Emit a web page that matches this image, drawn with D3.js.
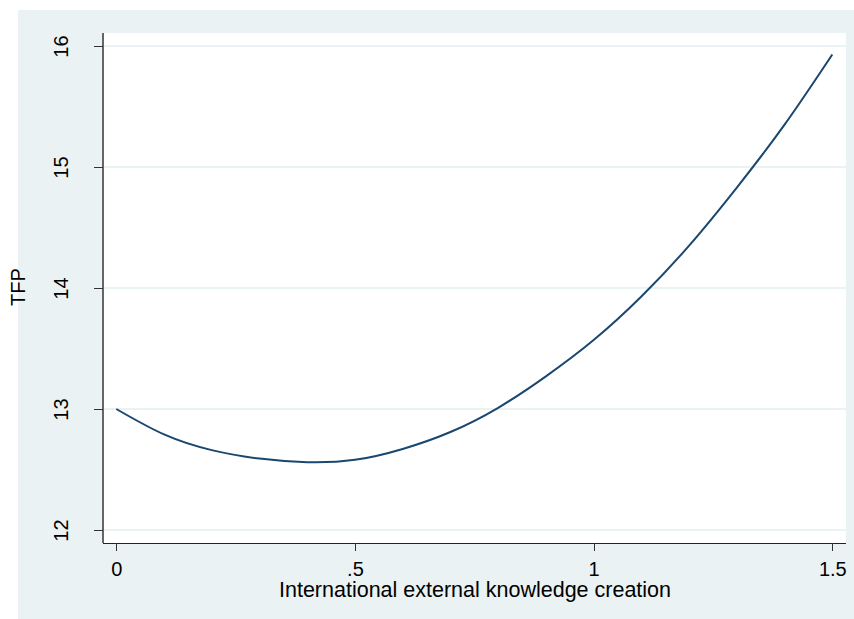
<!DOCTYPE html>
<html lang="en">
<head>
<meta charset="utf-8">
<title>TFP curve</title>
<script src="https://cdn.jsdelivr.net/npm/d3@7"></script>
<style>
  body { margin: 0; background: #fff; }
  text { font-family: "Liberation Sans", Arial, sans-serif; fill: #000; }
</style>
</head>
<body>
<script>
// values
var xVals = [0, 0.1, 0.2, 0.3, 0.4, 0.5, 0.6, 0.7, 0.8, 0.9, 1.0, 1.1, 1.2, 1.3, 1.4, 1.5];
var tfpVals = [13.00, 12.79, 12.66, 12.59, 12.56, 12.58, 12.67, 12.81, 13.01, 13.27, 13.57, 13.93, 14.35, 14.83, 15.35, 15.93];
var xTicks = [0, 0.5, 1, 1.5];
var xTickLabels = ["0", ".5", "1", "1.5"];
var yTicks = [12, 13, 14, 15, 16];
var xTitle = "International external knowledge creation";
var yTitle = "TFP";

var w = 854, h = 619;
var bg = "#eaf2f3";

var svg = d3.select("body").append("svg")
  .attr("width", w)
  .attr("height", h);

// outer graph region
svg.append("rect")
  .attr("x", 18).attr("y", 10)
  .attr("width", w - 18).attr("height", h - 10)
  .attr("fill", bg);

// plot region
var pLeft = 103, pRight = 846, pTop = 33, pBottom = 543;
svg.append("rect")
  .attr("x", pLeft).attr("y", pTop)
  .attr("width", pRight - pLeft).attr("height", pBottom - pTop)
  .attr("fill", "#fff");

var x = d3.scaleLinear().domain([0, 1.5]).range([116.3, 832.3]);
var y = d3.scaleLinear().domain([12, 16]).range([530, 46]);

// gridlines
svg.append("g").selectAll("line")
  .data(yTicks)
  .enter().append("line")
  .attr("x1", pLeft).attr("x2", pRight)
  .attr("y1", function(d) { return y(d); })
  .attr("y2", function(d) { return y(d); })
  .attr("stroke", bg)
  .attr("stroke-width", 2);

// y axis
var yAxis = svg.append("g")
  .attr("transform", "translate(" + pLeft + ",0)")
  .call(d3.axisLeft(y).tickValues(yTicks).tickSize(9).tickFormat(d3.format("d")));
yAxis.select(".domain").attr("d", "M0," + pTop + "V" + pBottom).attr("stroke", "#666").attr("stroke-width", 1.5);
yAxis.selectAll(".tick line").attr("stroke", "#333");
yAxis.selectAll(".tick text")
  .attr("x", null).attr("dy", null)
  .attr("text-anchor", "middle")
  .attr("transform", "translate(-42,0) rotate(-90) translate(0,7)")
  .style("font-size", "20px");

// x axis
var xAxis = svg.append("g")
  .attr("transform", "translate(0," + pBottom + ")")
  .call(d3.axisBottom(x).tickValues(xTicks).tickSize(8)
    .tickFormat(function(d, i) { return xTickLabels[i]; }));
xAxis.select(".domain").attr("d", "M" + pLeft + ",0H" + pRight).attr("stroke", "#222");
xAxis.selectAll(".tick line").attr("stroke", "#333");
xAxis.selectAll(".tick text")
  .attr("y", 33).attr("dy", null)
  .style("font-size", "20px");
svg.selectAll(".domain, .tick line").attr("shape-rendering", "crispEdges");
svg.selectAll("g").attr("font-family", null).attr("font-size", null);

// axis titles
svg.append("text")
  .attr("x", 475).attr("y", 597)
  .attr("text-anchor", "middle")
  .style("font-size", "21.5px")
  .text(xTitle);

svg.append("text")
  .attr("transform", "translate(25,287) rotate(-90)")
  .attr("text-anchor", "middle")
  .style("font-size", "20px")
  .text(yTitle);

// fitted curve
var line = d3.line()
  .x(function(d, i) { return x(xVals[i]); })
  .y(function(d) { return y(d); })
  .curve(d3.curveNatural);

svg.append("path")
  .datum(tfpVals)
  .attr("d", line)
  .attr("fill", "none")
  .attr("stroke", "#1a476f")
  .attr("stroke-width", 2);
</script>
</body>
</html>
